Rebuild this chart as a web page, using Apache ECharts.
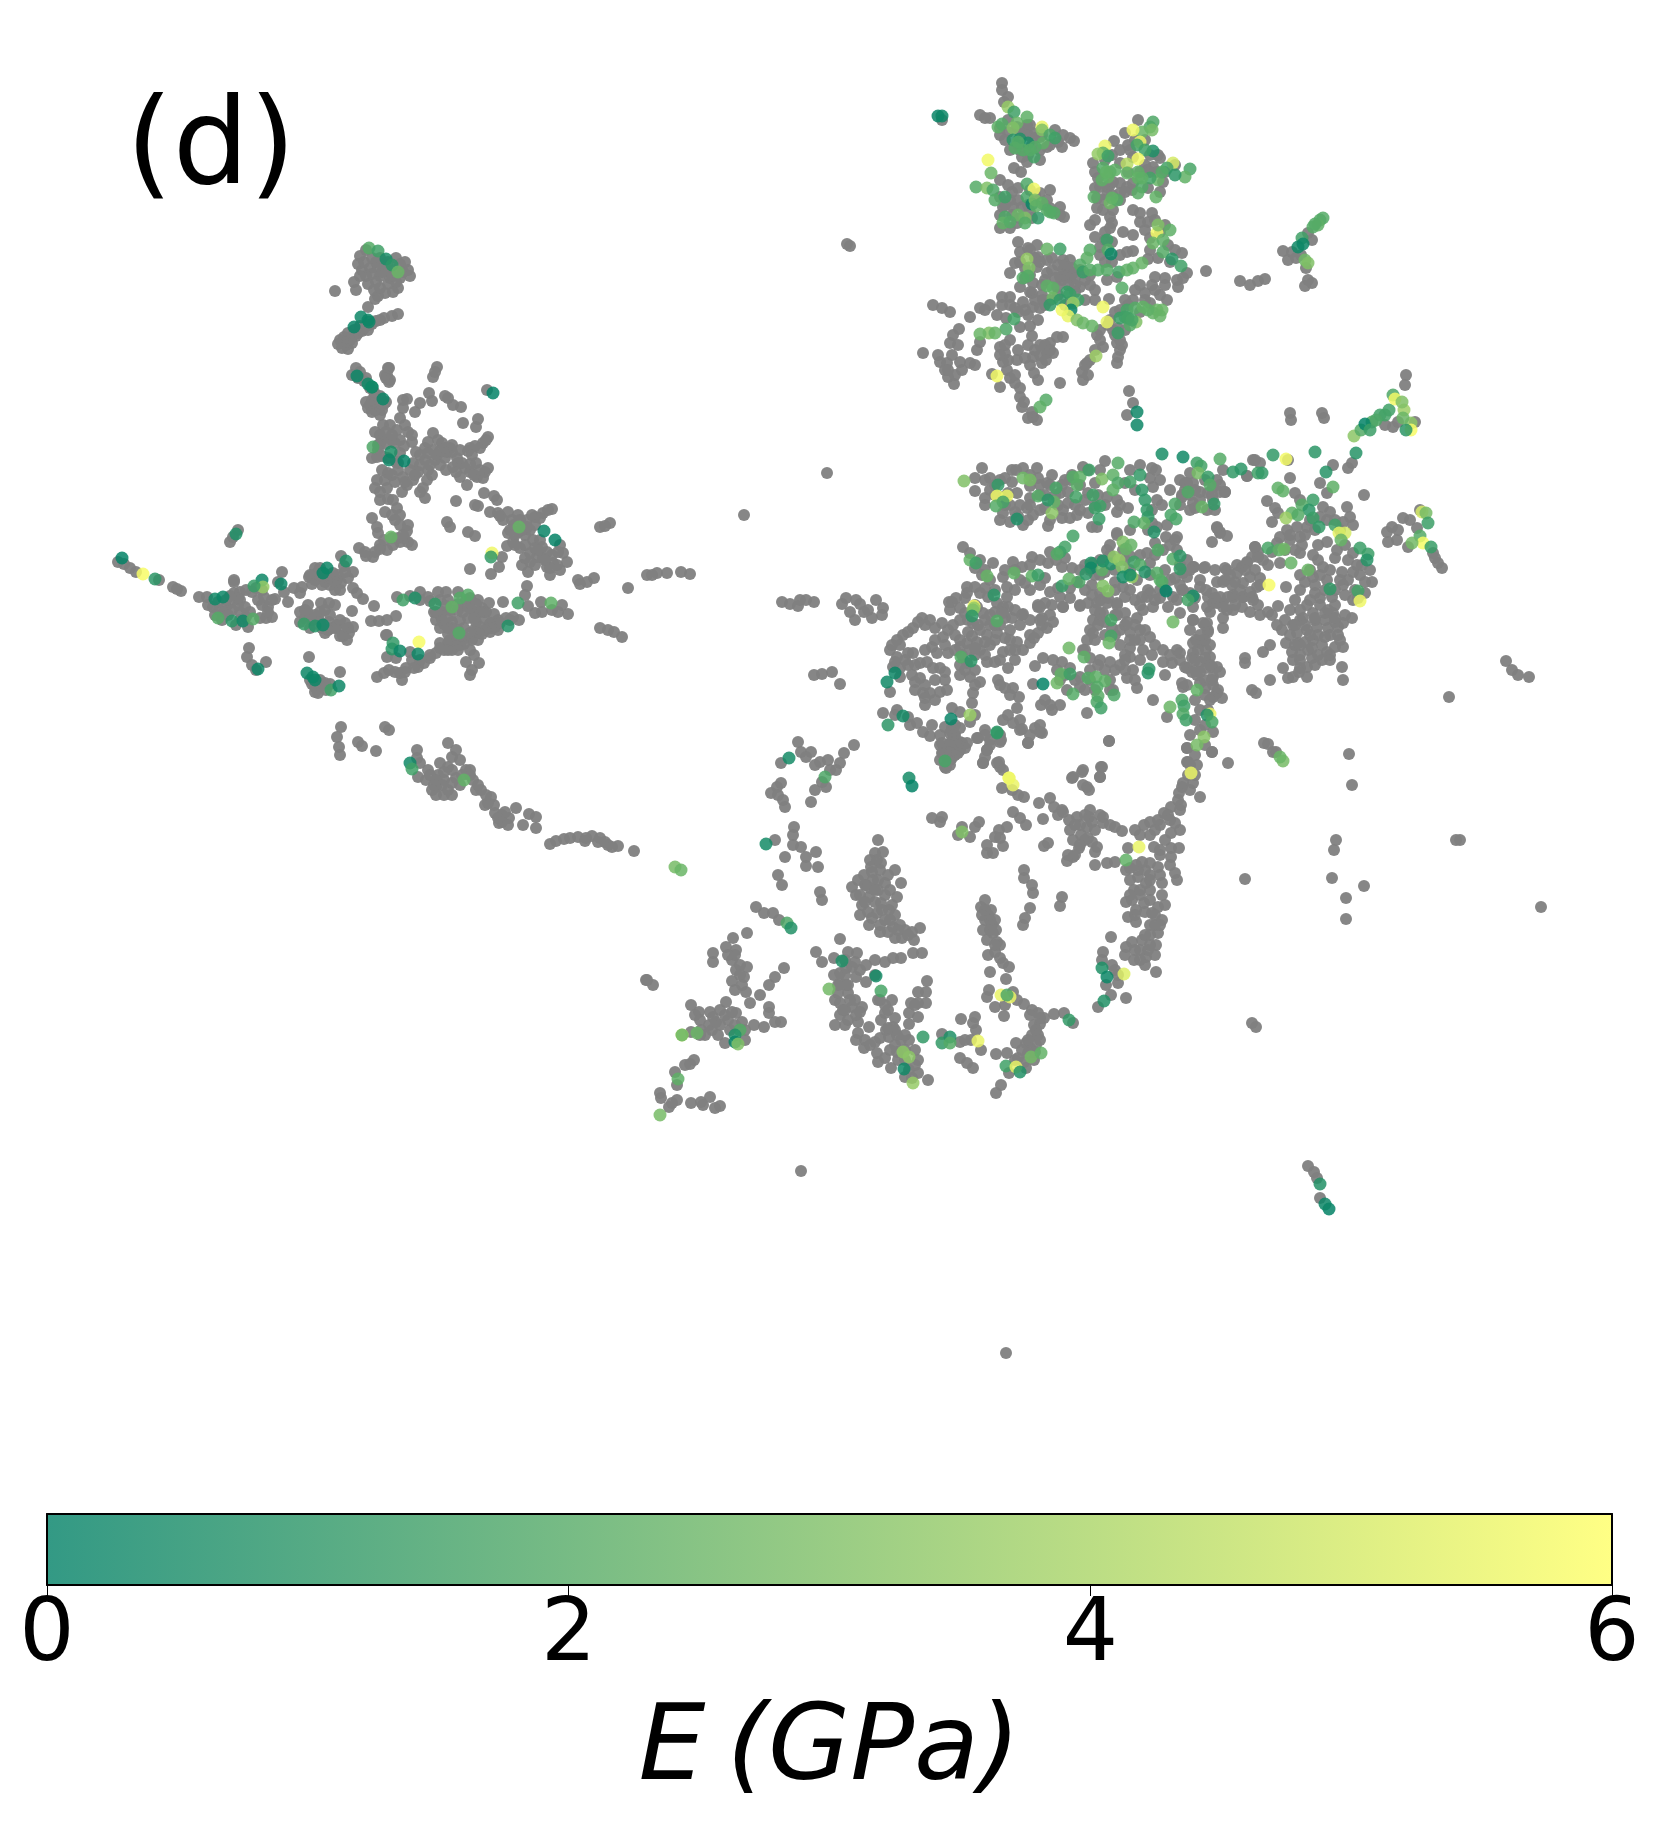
<!DOCTYPE html>
<html>
<head>
<meta charset="utf-8">
<title>E (GPa)</title>
<style>
    html, body { margin: 0; padding: 0; background: #fff; }
    #chart { width: 1660px; height: 1824px; }
</style>
<script src="https://cdn.jsdelivr.net/npm/echarts@6/dist/echarts.min.js"></script>
</head>
<body>
<div id="chart"></div>
<script>
// embedding values, y runs downwards
const grayWest = [
[366,250],[360,256],[362,270],[370,268],[378,268],[386,270],[394,270],[372,274],[380,276],[390,278],[400,278],[408,270],[400,264],[376,262],[384,264],[366,276],[376,282],[388,284],[398,288],[392,276],[354,282],[356,290],[335,291],[385,293],[375,299],[368,307],[378,296],
[392,316],[398,314],[384,318],[376,321],[369,325],[360,326],[354,330],[348,333],[344,337],[340,340],[338,344],[346,345],[352,343],[348,349],[356,336],[362,331],[368,330],
[356,368],[352,375],[358,378],[364,381],[370,388],[375,395],[378,403],[372,400],[368,408],[376,410],[372,412],[382,410],[386,402],[389,368],[387,375],[389,382],[386,378],
[388,368],[385,375],[390,380],[437,367],[433,377],[435,372],[407,399],[403,408],[400,418],[408,432],[412,442],[429,393],[420,403],[432,401],[415,412],[448,398],[453,405],[461,407],[445,396],[463,423],[478,419],[476,427],[488,437],[483,443],[475,446],[468,451],[433,433],[425,448],[433,450],[442,443],[450,448],[425,460],[435,460],[445,458],[457,458],[462,463],[413,463],[428,470],[453,467],[476,463],[470,472],[485,472],[460,477],[477,477],[483,478],[467,485],
[372,403],[378,403],[375,410],[383,425],[375,432],[380,435],[390,425],[397,430],[382,440],[395,443],[400,453],[377,457],[398,463],[388,473],[377,480],[403,477],[413,480],[407,485],[427,480],[423,488],[425,498],[402,492],[375,488],[387,488],[388,499],[385,512],[397,508],[392,515],[400,515],[395,520],[372,518],[377,527],[378,533],[407,531],[408,542],[400,542],[393,545],[387,550],[375,552],[373,557],
[484,493],[494,496],[497,500],[475,505],[478,506],[456,501],[447,522],[450,527],[468,532],[475,536],[487,390],
[490,512],[498,513],[508,512],[503,520],[518,515],[527,520],[535,517],[543,513],[552,509],[508,533],[513,542],[507,546],[530,530],[533,540],[520,548],[530,553],[542,547],[547,552],[537,557],[522,565],[530,562],[528,572],[502,557],[499,567],[491,574],[470,569],[560,545],[563,553],[567,562],[553,563],[547,567],[560,570],[550,575],[578,580],[514,525],[525,535],[540,540],[518,532],
[118,562],[124,564],[130,568],[136,572],[159,580],[173,587],[181,591],[177,589],
[199,597],[207,597],[213,607],[219,610],[226,607],[230,603],[224,612],[248,627],[238,605],[240,612],[234,593],[240,592],[246,590],[256,588],[234,580],[234,582],[240,600],[222,620],[236,625],[246,617],[264,597],[262,605],[268,607],[266,618],[272,617],[260,618],[275,599],[288,602],[282,572],[284,592],[294,588],[302,587],[300,593],[278,582],[238,530],[230,542],[233,537],[218,602],[230,596],[252,592],[258,600],[228,615],
[315,568],[333,573],[337,580],[315,580],[309,577],[335,590],[353,572],[341,556],[341,583],[325,582],[320,576],[348,578],[330,585],[318,572],[312,584],[328,578],[344,566],
[353,588],[363,599],[357,593],[374,606],[359,548],[366,556],[380,549],[398,538],[412,545],[404,538],[365,552],
[308,605],[321,603],[335,605],[329,603],[308,613],[300,622],[329,622],[337,625],[345,623],[353,627],[349,633],[341,630],[347,640],[325,633],[335,628],[352,611],[371,621],[379,621],[387,620],[396,616],[387,635],[312,620],[318,618],[328,630],[343,636],[305,618],[320,612],
[249,648],[247,657],[252,665],[266,662],[256,670],[309,657],[315,687],[318,693],[325,683],[340,672],[320,680],[326,690],[312,684],
[397,597],[420,592],[428,597],[446,592],[458,592],[440,600],[448,600],[430,601],[438,592],[470,598],[478,600],[410,596],[420,600],
[442,612],[450,616],[458,610],[466,606],[474,612],[482,608],[436,620],[444,624],[452,622],[460,620],[468,618],[476,622],[484,618],[490,624],[498,620],[506,618],[474,630],[482,634],[490,632],[498,630],[464,628],[472,640],[480,627],[456,640],[448,634],[458,630],[440,628],[466,600],[476,604],[486,612],[446,606],[434,612],[494,614],[452,628],[464,644],[478,640],[488,628],
[580,584],[587,582],[594,578],[600,527],[610,523],[605,526],[628,588],[647,575],[657,573],[667,573],[652,575],[681,572],[690,574],[600,628],[614,632],[622,637],[608,630],
[527,586],[525,595],[541,602],[562,605],[568,614],[535,613],[519,620],[513,617],[503,602],[489,603],[491,623],[495,627],[479,633],[472,638],[464,637],[448,643],[440,643],[452,650],[436,653],[424,663],[412,660],[400,673],[389,670],[377,677],[402,680],[387,657],[474,655],[466,662],[479,663],[472,670],[470,675],[542,612],[552,610],[558,612],[528,606],[406,668],[418,667],[430,658],[444,650],[450,640],[460,645],[470,650],[386,635],[396,658],[410,652],
[341,727],[337,737],[339,747],[340,755],[385,727],[389,730],[358,742],[362,746],[376,751],
[417,750],[420,763],[418,777],[426,780],[436,787],[436,795],[448,790],[440,763],[448,767],[438,775],[448,743],[456,750],[460,760],[466,770],[473,780],[481,790],[491,797],[485,805],[495,813],[499,823],[509,818],[516,808],[529,814],[536,817],[523,825],[536,828],[556,841],[564,839],[578,837],[592,836],[598,842],[608,845],[618,846],[634,851],[452,757],[444,780],[456,778],[428,770],[434,785],[444,795],[502,815],[488,803],[476,790],[600,838],[586,838],[550,844],[432,790],[452,783],[502,822],[505,812],[470,775],
[372,258],[380,258],[388,262],[396,258],[405,262],[364,262],[358,264],[368,284],[382,272],[396,282],[403,272],[360,276],[410,276],[374,290],[380,288],[393,292],
[358,333],[352,336],[346,342],[342,348],[364,328],[372,324],[380,320],[350,340],[360,372],[366,378],[374,392],[380,396],[366,402],[370,405],[384,404],[380,407],
[380,444],[386,444],[392,440],[400,440],[404,446],[378,450],[382,456],[388,458],[396,462],[372,458],
[403,400],[405,425],[412,435],[416,452],[420,455],[428,453],[437,455],[440,451],[447,452],[452,452],[458,463],[465,468],[470,464],[480,470],[474,475],[488,468],[430,465],[420,465],[432,475],[418,472],[410,470],[428,442],[438,440],[445,448],[452,445],[460,450],[470,448],[480,448],[486,440],[472,455],[440,465],[446,470],[456,472],
[380,415],[386,432],[392,435],[378,445],[382,470],[385,480],[392,475],[398,470],[405,482],[415,475],[420,492],[395,482],[380,492],[393,500],[380,500],[400,525],[408,525],[403,535],[384,540],[380,545],[392,538],
[500,516],[512,520],[520,520],[532,515],[540,518],[548,510],[510,530],[515,535],[522,530],[527,527],[535,525],[525,545],[535,548],[515,545],[525,558],[535,565],[543,558],[552,555],[558,552],[557,565],[550,568],[545,560],[538,550],
[440,615],[448,628],[455,635],[462,636],[470,633],[476,632],[485,630],[492,628],[500,623],[510,620],[480,612],[470,608],[458,604],[450,610],[442,620],[436,612],[463,612],[474,618],[484,612],[462,640],[456,646],[448,650],[440,648],[430,655],[420,660],[414,668],[405,672],[395,672],[384,673],[458,650],
[300,612],[305,610],[315,615],[325,610],[330,615],[340,620],[348,628],[340,636],[332,628],[322,628],[310,628],[320,622],[310,575],[320,568],[328,575],[338,575],[345,572],[322,585],[335,582],[340,590],
[208,605],[215,615],[226,600],[232,610],[240,620],[245,607],[250,612],[238,598],[262,590],[272,600],[268,612],[315,692],[320,686],[330,684],[310,680],
[417,758],[430,775],[442,785],[452,770],[444,772],[436,780],[462,775],[470,770],[478,785],[486,795],[494,805],[498,818],[508,825],[452,795],[460,785],[570,838],[585,841],[605,842],[612,847]
];
const grayNorth = [
[1002,83],[1002,90],[1004,102],[1008,97],[980,115],[985,118],[990,118],[942,120],
[1027,125],[1033,133],[1063,135],[1074,141],[1062,147],[1050,145],[1027,162],[1000,135],[1017,127],[1040,137],[1047,147],[1032,145],[1024,132],[1008,120],[1040,150],[1022,157],
[1018,188],[1050,190],[1047,200],[1060,207],[1064,217],[1003,207],[1013,207],[1022,207],[1010,228],[1017,223],[1040,193],[1014,168],[1021,172],[1000,197],[1030,212],[1050,208],[1010,200],
[1138,120],[1125,133],[1130,150],[1114,141],[1093,163],[1100,187],[1107,187],[1127,187],[1133,183],[1153,167],[1147,170],[1163,182],[1120,163],[1133,157],[1120,183],[1097,208],[1103,210],[1113,210],[1120,193],[1145,165],[1128,172],[1148,188],[1112,195],
[1110,217],[1112,223],[1090,225],[1095,220],[1133,210],[1140,213],[1152,213],[1148,222],[1123,232],[1133,235],[1145,230],[1182,253],[1148,259],[1095,237],[1100,247],[1127,252],[1133,251],[1155,277],[1107,280],[1117,277],[1178,287],[1177,280],[1187,273],[1183,278],[1105,232],[1112,242],[1150,238],[1105,262],
[1018,242],[1037,245],[1020,252],[1015,263],[1010,273],[1020,287],[1033,283],[1047,260],[1038,257],[1063,260],[1063,270],[1070,260],[1060,277],[1070,278],[1032,293],[1080,287],[1037,267],[1047,273],[1057,287],[1073,273],[1067,267],[1025,268],[1052,270],[1028,248],[1062,280],[1075,285],[1090,285],[1042,295],
[933,305],[942,308],[950,312],[970,317],[980,308],[990,305],[997,315],[1002,297],[1010,297],[1015,308],[1023,302],[1033,307],[1043,300],[1020,327],[1030,326],[1038,320],[1032,336],[959,329],[953,335],[950,343],[977,350],[980,342],[923,353],[938,355],[947,363],[948,377],[954,384],[960,362],[970,363],[1000,347],[1010,340],[1005,353],[1017,360],[1033,357],[1047,353],[1053,353],[1042,363],[1050,343],[1057,337],[1063,337],[992,374],[1007,370],[1000,387],[1015,383],[1020,397],[1022,407],[1034,373],[1038,380],[1060,383],[1033,417],[1037,420],[1032,412],[1006,318],[1028,315],[1040,308],[940,362],[945,370],[1040,355],[1030,365],[1045,345],[1003,362],[1010,378],
[1109,299],[1145,293],[1165,285],[1167,300],[1150,303],[1133,300],[1120,310],[1100,330],[1097,335],[1113,330],[1117,343],[1118,357],[1117,363],[1103,347],[1087,363],[1082,372],[1083,380],[1090,360],[1110,320],[1125,330],[1155,290],[1140,312],[1120,350],
[1129,391],[1133,403],[1127,415],[1290,413],[1291,420],[1322,413],[1324,418],
[1240,281],[1250,285],[1258,281],[1265,279],[1206,271],[1283,251],[1288,260],[1292,252],[1308,233],[1312,240],[1308,280],[1305,286],[1312,283],[1296,258],[1306,268],[1301,255],
[1000,128],[1008,132],[1005,140],[1020,132],[1028,135],[1035,138],[1042,135],[1055,130],[1058,142],[1070,138],[1020,150],[1028,155],[1040,160],[1025,128],[1030,125],[1010,150],[1018,145],
[1030,190],[1035,195],[1045,205],[1052,212],[1060,215],[1005,205],[1018,200],[1028,205],[1012,215],[1020,218],[1032,218],[1000,215],[1000,228],[1012,192],[1008,185],[1000,180],
[1105,160],[1112,155],[1120,150],[1128,145],[1135,140],[1145,140],[1158,155],[1165,172],[1150,172],[1157,172],[1095,172],[1098,178],[1110,185],[1095,188],[1113,182],[1132,190],[1140,172],[1160,192],[1104,200],[1097,198],[1107,195],[1120,200],[1125,192],[1150,155],[1160,158],[1175,165],
[1110,228],[1105,240],[1100,255],[1112,262],[1120,255],[1140,222],[1155,220],[1165,225],[1160,232],[1168,245],[1175,250],[1150,250],[1158,258],[1170,262],
[1030,250],[1035,258],[1025,278],[1030,275],[1040,262],[1045,280],[1052,258],[1058,265],[1055,278],[1065,265],[1072,268],[1075,278],[1080,270],[1085,280],[1090,275],[1095,290],[1068,285],[1058,295],[1050,300],[1065,305],[1075,292],[1085,300],[1095,300],[1020,262],[1030,292],[1035,300],[1042,285],[1070,302],[1065,275],
[1128,305],[1135,290],[1145,300],[1152,285],[1160,295],[1165,278],[1125,300],[1115,312],[1108,325],[1118,328],[1128,320],[1140,285],
[1010,305],[1018,312],[1025,310],[1045,305],[1002,305],[985,310],[1000,355],[1008,360],[1018,350],[1028,345],[1040,345],[1046,360],[1035,350],[1025,358],[1050,350],[1005,345],[958,345],[952,355],[948,370],[955,375],[962,370],[975,365],[1015,375],[1020,388],[1024,402],[1028,418],
[1120,340],[1115,335],[1122,345],[1085,365],[1088,375],[1095,350],[1100,340]
];
const grayCentral = [
[883,608],[922,618],[930,620],[913,628],[903,635],[897,640],[890,650],[897,657],[893,667],[900,677],[890,692],[908,653],[913,653],[942,623],[953,625],[943,637],[932,647],[937,653],[927,662],[920,663],[912,675],[920,678],[915,690],[923,693],[930,693],[925,705],[940,668],[933,668],[945,680],[940,692],[947,690],[918,622],[908,632],[892,645],[895,662],[948,630],
[948,653],[960,647],[967,643],[977,642],[987,635],[980,630],[968,632],[973,623],[952,602],[950,610],[965,613],[983,613],[997,603],[1008,607],[1005,618],[1012,618],[1023,614],[997,633],[990,645],[1005,638],[980,650],[967,663],[960,665],[970,677],[973,693],[972,703],[980,682],[987,662],[995,662],[975,655],[962,655],[985,620],[990,625],[995,612],[960,620],[975,605],[972,636],[955,650],[970,650],[1000,625],
[1003,652],[1008,668],[1015,660],[1023,650],[1017,642],[1030,643],[1038,633],[1047,628],[1053,622],[1038,607],[1045,603],[1063,607],[1080,606],[1042,618],[1035,666],[1043,658],[1053,660],[1062,662],[998,680],[1005,688],[1013,688],[1019,697],[1033,684],[883,713],[897,710],[908,717],[917,723],[923,732],[930,736],[932,725],[952,708],[960,712],[970,722],[950,733],[940,745],[950,743],[960,742],[967,743],[943,753],[955,750],[945,767],[978,738],[985,730],[987,750],[983,763],[1000,742],[1003,720],[1013,723],[1022,729],[1017,708],[1028,743],[1035,728],[1042,733],[1041,705],[1052,710],[1060,705],[948,748],[952,758],[955,725],[1042,625],[1034,638],[1050,615],
[1057,670],[1080,677],[1090,670],[1067,690],[1080,687],[1110,680],[1120,665],[1113,690],[1127,678],[1087,713],[1137,688],[1133,670],[1130,657],[1110,662],[1093,620],[1088,603],[1107,603],[1117,605],[1093,633],[1087,640],[1083,650],[1103,613],[1125,613],[1120,630],[1130,632],[1140,630],[1150,637],[1143,650],[1130,648],[1120,645],[1137,618],[1143,610],[1140,605],[1163,650],[1177,650],[1163,662],[1172,663],[1187,668],[1165,675],[1153,700],[1167,717],[1183,687],[1195,670],[1200,643],[1193,653],[1208,630],[1203,623],[1213,685],[1213,677],[1217,693],[1210,657],[1217,667],[1200,730],[1187,748],[1212,752],[1188,762],[1197,765],[1182,787],[1193,783],[1109,741],[1147,597],[1173,597],[1180,613],[1193,620],[1213,603],[1150,593],[1193,607],[1100,620],[1112,628],[1100,600],[1127,622],[1135,640],[1125,655],[1060,680],[1090,680],[1098,665],[1152,655],[1070,668],[1205,680],[1205,695],[1208,710],[1195,700],[1196,640],[1206,650],
[997,763],[1000,767],[1082,772],[1072,778],[1102,767],[1100,777],[1087,787],
[1185,483],[1193,483],[1182,495],[1200,492],[1217,480],[1223,470],[1220,492],[1213,500],[1225,492],[1195,508],[1207,510],[1247,476],[1253,460],[1260,463],[1288,460],[1290,478],[1295,493],[1300,500],[1320,483],[1327,493],[1333,465],[1352,463],[1348,468],[1364,495],[1267,501],[1275,508],[1278,513],[1272,522],
[1217,528],[1220,533],[1227,536],[1212,542],[1323,507],[1330,512],[1347,507],[1350,517],[1343,522],[1353,525],[1327,520],[1307,527],[1297,527],[1287,530],[1280,537],[1277,543],[1300,537],[1302,545],[1327,542],[1318,545],[1337,550],[1335,558],[1313,555],[1300,553],[1280,563],[1255,547],[1252,557],[1247,562],[1263,560],[1242,567],[1237,565],[1225,568],[1250,577],[1235,582],[1225,580],[1217,582],[1260,585],[1194,567],[1204,568],[1183,573],[1200,580],[1182,590],[1335,520],[1340,530],[1310,520],[1320,517],[1272,552],[1290,540],[1258,552],
[1286,587],[1305,582],[1300,590],[1295,600],[1290,610],[1307,605],[1315,593],[1313,577],[1323,567],[1327,580],[1332,597],[1342,572],[1353,572],[1348,580],[1343,585],[1372,582],[1370,570],[1353,553],[1357,565],[1365,582],[1355,590],[1353,600],[1365,593],[1320,575],[1315,585],[1320,598],[1328,610],
[1208,597],[1217,603],[1223,603],[1233,595],[1227,610],[1243,597],[1252,597],[1242,607],[1250,612],[1260,615],[1268,612],[1272,615],[1278,606],[1193,620],[1207,623],[1223,618],[1223,628],[1233,610],[1208,632],[1277,625],[1282,630],
[1293,625],[1303,618],[1313,613],[1325,613],[1333,613],[1343,623],[1352,618],[1297,633],[1307,630],[1317,627],[1328,628],[1338,627],[1305,642],[1313,640],[1308,650],[1318,655],[1327,652],[1335,647],[1343,647],[1322,660],[1286,643],[1270,645],[1263,652],[1292,652],[1245,658],[1245,663],[1293,660],[1283,668],[1293,677],[1307,667],[1307,677],[1342,667],[1343,680],[1270,680],[1252,690],[1256,693],[1300,620],[1315,620],[1330,635],[1298,643],[1318,635],[1322,645],[1300,655],[1312,658],[1335,622],[1300,668],[1288,678],[1299,672],
[1203,640],[1198,650],[1192,658],[1200,662],[1185,667],[1197,675],[1212,667],[1220,672],[1212,680],[1218,690],[1213,697],[1222,698],[1187,685],[1200,683],[1180,653],[1193,643],[1182,683],[1206,668],[1192,672],[1205,658],
[1403,518],[1410,520],[1420,510],[1387,532],[1392,527],[1397,540],[1388,542],[1417,528],[1408,547],[1433,553],[1438,563],[1442,568],[1398,530],[1435,558],[1385,425],[1393,427],[1415,422],[1398,422],[1406,375],[1405,385],
[982,468],[975,478],[990,478],[975,491],[1023,468],[1037,468],[1038,478],[1008,493],[1017,493],[1003,497],[1020,505],[1003,513],[1010,522],[1023,525],[1033,515],[1027,508],[1047,483],[1045,508],[1048,526],[1063,510],[1062,518],[1070,518],[1077,515],[1092,527],[1097,527],[1088,513],[1065,480],[1088,470],[1083,467],[1105,461],[1060,493],[1088,493],[1107,497],[1117,500],[1117,512],[1128,508],[1125,483],[1152,468],[1160,480],[1153,487],[1157,500],[1152,510],[1167,525],[1157,527],[1130,530],[1117,535],[1152,523],[1177,537],[1190,473],[1187,483],[1182,497],[1193,503],[1208,493],[1213,487],[1225,492],[1247,476],[1255,460],[1217,527],[1220,532],
[1000,480],[1012,482],[1030,486],[1045,495],[1005,505],[1015,512],[1030,498],[1040,510],[1055,495],[1068,492],[1075,505],[1085,500],[1098,495],[990,490],[985,498],[1016,470],[1052,475],[1072,475],[1028,520],
[963,547],[970,553],[980,560],[993,563],[1013,562],[1032,557],[1050,552],[1022,567],[1048,563],[1003,577],[982,575],[985,588],[967,593],[980,593],[1007,587],[1007,597],[975,587],[988,597],[1062,567],[1072,568],[1025,583],[1040,585],[1020,580],[1050,592],[1070,588],[1080,605],[1060,597],[1038,605],[1052,605],[1063,607],[1077,582],[1085,565],[1093,563],[1107,550],[1117,533],[1123,550],[1100,593],[1097,603],[1117,603],[1123,587],[1115,582],[1137,580],[1142,597],[1147,553],[1150,563],[1163,550],[1177,550],[1187,560],[1175,540],[1187,577],[1175,578],[1193,567],[1205,567],[1183,590],[1190,593],[1200,587],[1212,593],[1223,582],[1227,570],[1237,573],[1247,563],[1255,547],[1258,557],[1243,583],[1257,587],[1220,597],[1233,597],[1207,607],[1243,597],[1253,600],[1223,607],[1177,600],[1153,607],[1168,607],[1022,615],[977,607],[1003,607],[965,598],[967,587],[1003,613],[1040,607],[1100,613],[1117,615],[1095,575],[1105,572],[1115,590],[1130,590],[1150,575],[1165,570],[1165,590],[1110,545],[1130,556],[1155,543],[1166,537],[1092,585],[1100,575],[1148,590],[1160,598],
[949,602],[956,598],[860,604],[868,610],[876,600],[882,615],[872,618],[864,612],[814,602],[800,600],[782,602],[790,604],[798,606],[806,600],[846,598],[856,600],[850,612],[842,604],[855,620],[814,675],[832,672],[822,674],[840,684],[1268,744],[1276,752],
[985,480],[995,485],[1005,478],[1012,470],[1030,475],[1040,485],[1050,485],[1062,485],[1070,480],[1080,485],[1095,483],[1100,470],[985,505],[995,495],[1010,505],[1000,520],[1018,516],[1030,505],[1040,495],[1050,520],[1058,505],[1068,503],[1080,510],[1095,505],[1105,505],[1120,505],[1135,490],[1130,470],[1140,465],[1150,478],[1156,470],[1148,530],[1162,505],[1170,490],[1180,480],[1185,490],[1190,495],[1195,490],[1205,480],[1212,495],[1220,485],[1200,500],[1190,510],[1215,510],[1180,505],
[975,568],[985,570],[990,580],[995,590],[1005,570],[1015,570],[1030,565],[1040,560],[1056,560],[1065,558],[1080,570],[1090,570],[1100,560],[1110,555],[1115,570],[1125,560],[1130,570],[1140,555],[1155,555],[1170,545],[1180,565],[1190,570],[1170,580],[1160,590],[1045,578],[1030,590],[1015,590],[1058,588],[1070,598],[1085,590],[1092,595],[1108,598],[1125,597],[1135,600],[1155,600],[1180,585],[1195,598],[1206,590],[1215,598],[1228,597],[1240,590],[1250,592],[1260,578],[1268,565],[1245,570],[1232,585],
[900,645],[905,660],[915,665],[925,650],[935,640],[945,645],[925,625],[935,628],[955,635],[960,640],[975,648],[985,642],[995,640],[1010,630],[1020,625],[1030,620],[960,608],[968,620],[978,625],[990,615],[1002,612],[1015,610],[995,625],[1010,640],[1015,650],[1030,635],[1040,620],[965,670],[975,670],[985,655],[1000,660],[1010,650],[900,668],[908,665],[915,682],[925,685],[935,680],[945,672],[935,700],[925,698],[975,685],[960,675],[975,715],[895,715],[910,725],[940,735],[945,727],[955,735],[950,760],[960,750],[1000,685],[1010,695],[1008,715],[1020,720],[1030,735],[1040,725],[1045,700],[1050,705],[1000,735],[990,740],[985,757],
[1095,610],[1105,622],[1115,615],[1125,625],[1135,625],[1145,630],[1130,640],[1140,640],[1115,635],[1105,635],[1095,640],[1090,630],[1098,625],[1085,650],[1090,658],[1100,660],[1115,670],[1125,670],[1135,680],[1140,660],[1065,675],[1075,680],[1085,690],[1095,690],[1105,670],[1110,690],[1125,660],[1155,645],[1170,655],[1180,660],[1195,660],[1205,640],[1210,645],[1205,625],[1210,665],[1200,672],[1205,688],[1210,700],[1200,710],[1195,720],[1205,725],[1190,735],[1195,755],[1205,745],
[1295,625],[1305,625],[1315,618],[1325,620],[1335,618],[1345,615],[1310,635],[1325,637],[1338,635],[1300,645],[1312,648],[1330,655],[1340,640],[1300,660],[1315,665],[1290,635],[1285,620],[1330,660],[1300,575],[1310,570],[1318,560],[1330,570],[1340,580],[1325,590],[1335,590],[1310,600],[1300,610],[1320,605],[1335,605],[1345,595],[1290,535],[1305,535],[1315,530],[1295,550],[1285,550],[1345,545],[1348,560],[1360,575],[1362,565],[1358,598],[1295,645],[1190,630],[1200,635],[1210,612],[1235,605],[1258,605],[1215,570],[1230,575],[1255,570]
];
const graySouth = [
[798,742],[801,752],[811,752],[820,762],[828,760],[815,765],[840,763],[844,753],[854,745],[836,770],[815,790],[826,787],[781,763],[777,787],[781,783],[771,793],[783,800],[785,807],[811,802],[830,770],[822,782],[806,757],[778,795],
[794,827],[793,835],[775,840],[793,845],[801,847],[785,857],[806,857],[816,852],[806,866],[818,867],[778,875],[782,885],[820,892],[822,900],
[756,907],[764,913],[773,913],[779,920],[747,933],[733,938],[726,947],[736,950],[713,953],[713,962],[732,960],[736,970],[744,977],[732,981],[747,967],[784,968],[775,977],[769,985],[760,995],[750,1003],[746,992],[646,980],[653,985],[691,1005],[699,1012],[695,1015],[713,1017],[726,1002],[720,1010],[736,1013],[728,1020],[709,1025],[701,1030],[691,1032],[725,1043],[769,1007],[769,1013],[754,1025],[764,1027],[775,1022],[781,1022],[730,1030],[712,1030],[745,1030],[742,1022],[716,1022],[732,1012],
[694,1060],[690,1064],[685,1065],[675,1072],[677,1085],[660,1093],[661,1098],[677,1100],[669,1107],[691,1103],[701,1102],[710,1097],[703,1105],[715,1108],[720,1106],[672,1103],
[878,840],[875,853],[883,852],[877,860],[871,867],[864,875],[895,870],[881,863],[885,883],[873,880],[852,887],[856,895],[869,897],[875,902],[862,905],[881,903],[889,910],[877,913],[885,920],[869,925],[893,927],[905,930],[895,938],[901,883],[897,897],[920,928],[914,940],[885,895],[866,885],[870,888],[860,895],[868,912],[880,925],[888,932],[902,938],[872,872],[878,890],[892,905],
[840,939],[816,952],[822,962],[834,958],[848,952],[857,953],[852,967],[840,973],[856,977],[866,982],[885,962],[901,958],[913,953],[922,953],[840,983],[848,993],[840,1003],[852,1007],[862,1007],[840,1015],[848,1020],[858,1022],[835,1025],[869,1027],[885,1013],[881,1020],[893,1027],[889,1037],[901,1040],[875,1042],[856,1040],[864,1048],[877,1053],[885,1058],[891,1068],[909,1040],[918,1060],[909,1070],[918,1073],[928,1080],[905,1077],[846,968],[834,975],[845,1010],[850,1000],[835,1000],[895,1045],[885,1005],[892,1000],[880,1000],[875,975],[866,965],[893,958],[886,1030],[880,1038],[905,1060],[897,1052],[860,970],[875,960],[846,985],[838,993],[856,1015],[897,1035],
[911,1003],[918,1003],[926,1003],[909,1013],[918,1017],[909,1024],[927,981],[918,992],[926,992],[915,1005],
[942,1034],[960,1042],[971,1040],[973,1023],[975,1017],[961,1019],[981,1050],[960,1058],[967,1063],[973,1068],[965,1040],[976,1030],
[981,907],[991,910],[985,920],[995,920],[983,930],[993,933],[987,940],[997,942],[995,952],[1003,963],[1009,967],[990,972],[1006,979],[989,990],[987,997],[995,1007],[1004,1016],[1013,992],[1017,1000],[1005,1005],[1000,945],[988,955],[992,925],[985,900],[988,915],[1000,958],
[1024,1004],[1032,1010],[1038,1013],[1044,1018],[1034,1025],[1032,1035],[1026,1043],[1036,1045],[1016,1043],[1054,1014],[1064,1013],[1073,1023],[1040,1024],[1038,1035],[1030,1048],[996,1054],[1007,1053],[1028,1053],[1009,1073],[1026,1068],[1001,1085],[996,1093],[1034,1060],[1018,1058],
[932,818],[942,817],[940,822],[979,822],[975,827],[958,835],[970,837],[962,827],[987,845],[1003,846],[999,830],[1007,827],[995,837],[987,853],[993,853],[1026,825],[1013,812],[1020,818],[1000,838],
[999,762],[1003,770],[1002,788],[1018,795],[1024,797],[983,763],[1012,790],
[942,743],[952,742],[962,743],[950,752],[942,753],[958,753],[946,768],[952,728],[954,735],[977,738],[987,750],[1001,740],[1028,743],[1040,732],[1020,730],[948,760],[952,732],[960,728],[985,735],[990,745],
[1050,798],[1054,807],[1062,810],[1069,820],[1077,817],[1089,817],[1103,817],[1087,827],[1081,835],[1073,840],[1079,848],[1073,857],[1067,861],[1097,847],[1095,852],[1095,865],[1107,863],[1115,862],[1103,823],[1115,827],[1122,831],[1039,803],[1043,819],[1044,846],[1048,843],[1080,825],[1092,822],[1085,840],[1058,815],
[1024,870],[1024,878],[1032,885],[1033,893],[1030,908],[1062,897],[1060,906],[1023,925],[1025,918],
[1109,741],[1083,770],[1073,777],[1101,767],[1100,777],[1083,785],[1089,790],
[1213,732],[1187,748],[1212,752],[1187,762],[1183,783],[1179,793],[1200,797],[1171,807],[1181,805],[1164,813],[1150,822],[1175,823],[1135,830],[1171,833],[1150,835],[1128,848],[1154,847],[1171,848],[1179,848],[1171,857],[1150,863],[1158,867],[1138,877],[1130,880],[1146,883],[1175,873],[1177,880],[1162,883],[1126,870],[1134,890],[1126,902],[1144,903],[1162,895],[1158,907],[1152,913],[1128,917],[1136,922],[1162,920],[1158,933],[1111,937],[1142,940],[1132,942],[1156,945],[1126,947],[1146,957],[1134,960],[1103,952],[1156,972],[1118,983],[1111,995],[1126,998],[1098,1007],[1102,960],[1178,800],[1188,775],[1190,790],[1158,820],[1168,815],[1144,825],[1138,870],[1132,900],[1140,895],[1150,890],[1136,910],[1155,925],[1150,935],[1148,950],[1140,950],[1136,865],[1145,870],[1150,875],[1160,855],[1115,970],[1106,985],
[1245,879],[1252,1023],[1256,1027],[1228,763],[1264,743],[1273,752],
[1006,1353],[801,1171],[1308,1166],[1314,1172],[1320,1198],[1317,1178],[1541,907],[1460,840],[1456,840],[1349,754],[1352,785],[1336,840],[1334,850],[1332,878],[1346,898],[1364,886],[1346,919],[1449,697],[1506,661],[1512,670],[1518,675],[1529,677],[847,244],[850,246],[744,515],[827,473],[647,980],
[1180,810],[1170,820],[1160,825],[1155,830],[1140,835],[1165,840],[1160,850],[1180,830],[1170,865],[1160,875],[1150,880],[1142,862],[1130,868],[1140,890],[1130,895],[1150,900],[1145,912],[1135,915],[1165,905],[1155,915],[1150,925],[1145,935],[1160,925],[1135,950],[1125,955],[1140,960],[1150,945],[1155,955],[1145,965],[1112,965],[1118,975],[1190,765],[1195,775],
[1063,812],[1075,825],[1090,810],[1085,815],[1095,830],[1070,830],[1088,838],[1080,845],[1075,855],[1068,855],[1100,815],[1110,825],[1092,842],
[870,860],[880,870],[888,875],[878,880],[865,885],[858,880],[890,890],[865,902],[875,890],[882,910],[872,918],[895,915],[900,925],[912,932],[880,932],[890,920],[898,930],[908,935],[860,915],
[845,960],[855,962],[845,975],[848,985],[838,985],[843,1010],[855,1000],[845,1025],[860,1012],[878,1000],[888,1010],[895,1018],[888,1028],[895,1030],[905,1035],[915,1050],[905,1050],[898,1060],[915,1065],[912,1078],[870,1045],[878,1062],[890,1050],[858,1033],[865,1040],
[990,920],[990,930],[995,945],[985,910],[982,915],[996,930],
[1030,1015],[1040,1018],[1036,1030],[1028,1040],[1040,1040],[1022,1050],[1015,1060],[1035,1052],[1024,1062],
[958,745],[955,755],[965,748],[940,760],[950,765],[735,955],[740,965],[740,975],[728,955],[742,985],[735,990],
[700,1020],[710,1012],[725,1015],[720,1025],[735,1025],[705,1035],[745,1040],[700,1035],[718,1035]
];
// x, y, E in GPa
const measuredPoints = [
[369,248,2],[378,251,1.5],[386,259,.6],[392,265,1],[398,272,2.5],[361,317,.3],[368,320,.3],[369,322,.3],[354,327,.2],[357,376,.3],[368,384,.4],[372,387,.4],[372,387,.4],[383,399,.3],[373,447,1.8],[391,452,.7],[389,460,.3],[404,461,.1],[493,393,.1],[391,537,2.4],[519,527,2.4],[544,531,.2],[555,540,.1],[492,553,5.6],[491,557,1.2],
[122,558,.1],[143,574,5.8],[155,579,1],[215,599,.4],[223,597,.3],[218,618,2],[232,621,1],[243,621,.4],[253,619,2],[262,580,.3],[263,587,3.5],[254,586,1.3],[281,584,.3],[236,534,.7],[323,573,.3],[327,568,.3],[346,561,.7],[304,624,1.3],[315,626,.9],[323,625,.4],[258,669,.3],[307,673,.3],[313,677,.3],[315,680,.3],[331,690,1.5],[339,686,.3],
[403,600,1.5],[415,598,.7],[435,604,1.2],[460,598,2],[468,595,2],[452,607,2.3],[459,633,2],[508,626,.8],[518,603,1.5],[551,603,2.2],[419,642,5.8],[393,643,1.2],[392,649,1],[400,651,.3],[418,654,.3],
[410,763,.4],[412,769,1.5],[464,780,2.3],[675,867,2.8],[681,870,2.5],
[938,116,.2],[942,116,.3],[1008,107,3.5],[1014,112,1.5],[1017,123,2.5],[1027,117,2.2],[998,127,2.2],[1002,124,2],[1013,128,3],[1013,140,1],[1020,139,.8],[1028,143,.6],[1042,127,5.5],[1042,130,3],[1043,143,2.2],[1050,135,1.8],[1055,138,1.5],[1023,150,2],[1034,157,1.6],[1035,147,2],[1015,148,2],[1018,142,2],[1030,150,2],
[988,160,5.7],[991,173,2.5],[976,187,2],[987,188,3],[993,190,1.8],[995,200,2],[1005,197,1.5],[1027,184,1.8],[1034,189,5.7],[1027,197,1.7],[1032,204,.2],[1035,200,3],[1042,203,2.2],[1047,210,2],[1054,213,2],[1038,218,1.2],[1025,218,3],[1018,215,2.5],[1005,217,1.8],[1003,223,2.3],[1010,222,2],[1025,223,2],[1050,212,2],[1036,206,2.2],
[1153,122,1.8],[1150,127,1.8],[1152,130,2.8],[1142,132,2.5],[1133,130,5.6],[1140,142,5.5],[1137,145,1.6],[1153,151,.7],[1145,150,1.5],[1105,146,5.5],[1103,153,2.2],[1098,154,3.5],[1108,156,1.5],[1138,159,5.7],[1127,164,4.3],[1173,163,5],[1167,168,1.6],[1190,169,1.7],[1185,177,2.3],[1175,175,1],[1103,168,2],[1115,170,2.2],[1108,177,2.4],[1102,180,2.2],[1127,173,2.3],[1138,172,2.2],[1138,178,2.3],[1158,180,2.4],[1150,178,1.6],[1142,187,1.9],[1138,193,2.1],[1156,197,2.3],[1094,197,2.1],[1110,203,2.6],[1117,200,2],[1112,198,2.3],[1110,172,2.2],[1106,172,2.3],[1142,178,2.2],[1162,172,2],
[1157,233,5.7],[1158,225,3],[1170,230,2.2],[1153,243,2.5],[1163,240,2.2],[1163,252,2],[1172,259,1],[1181,266,1.5],[1107,240,1.4],[1108,250,2],[1111,254,.3],[1090,250,2],[1087,258,2.2],[1080,265,2],[1083,272,1.3],[1098,270,2],[1107,270,2],[1119,272,1.6],[1133,268,2.3],[1142,263,2.4],[1122,288,2],[1090,270,2],[1127,270,2.2],
[1047,249,2.4],[1060,249,1.5],[1027,259,3.5],[1029,268,3],[1023,278,2],[1028,276,2],[1047,286,2.2],[1053,288,2.2],[1053,298,2.6],[1067,292,1.4],[1070,294,1.4],[1050,305,1.2],[1060,300,1.2],[1078,300,1.5],[1073,303,3.5],[1071,310,.2],[1062,310,5.7],[1068,316,5.5],
[1014,319,1.6],[1006,329,1.8],[989,333,3],[980,334,2.5],[995,333,2.4],[997,376,5.7],[1046,400,2],[1040,407,2.2],[1137,412,.3],[1137,425,.3],
[1077,320,3],[1083,323,2.5],[1092,326,2.4],[1103,307,5.6],[1107,322,5.4],[1120,318,1.4],[1127,310,1.7],[1135,308,2],[1136,322,3],[1118,333,1.4],[1125,317,1.5],[1157,310,2.5],[1162,310,2.5],[1153,313,2.4],[1160,316,2.4],[1148,310,2.2],[1143,307,2.3],[1130,325,2],[1096,356,3.7],[1128,318,1.6],[1132,320,1.7],
[964,481,3],[998,485,1.2],[997,496,5.6],[1007,496,5.5],[1003,502,1.6],[996,506,2],[1017,519,.7],[1052,513,3.3],[1054,502,2.4],[1023,478,2.6],[1030,480,2.8],[1038,496,2],[1056,488,1.7],[1048,500,1],[1073,477,2],[1080,477,2.2],[1077,485,2.1],[1089,470,1.5],[1076,497,1.6],[1093,495,1.5],[1100,506,1.5],[1095,508,1.4],[1099,519,1.3],[1118,463,2],[1102,479,2.9],[1113,475,2.2],[1118,483,1.8],[1113,490,2.2],[1130,482,1.6],[1140,475,1.2],[1142,490,1.1],[1145,500,1.1],[1147,510,1.2],[1148,517,1.2],[1144,523,2.3],[1134,522,1.8],[1154,532,.8],[1162,454,.6],[1183,457,.4],[1220,459,2],[1197,463,1.5],[1201,466,1.6],[1198,473,2.8],[1208,477,1.3],[1210,485,2],[1188,492,1.9],[1214,504,1.2],[1202,507,2.4],[1175,504,1.8],[1171,515,1.7],[1176,519,1.7],[1233,472,1.2],[1241,469,1],[1258,473,1.5],
[1073,536,1.6],[1065,547,1.6],[1060,552,1.5],[1057,554,2],[970,560,2.3],[976,563,1.5],[987,576,2.4],[1014,573,2.3],[1032,576,2.2],[1038,575,1.4],[1062,586,1.3],[1079,582,1.8],[1069,579,2.3],[994,595,1],[974,606,5.7],[974,608,3.5],[973,610,3],[972,616,1.1],[1091,563,.9],[1091,568,.4],[1086,574,1],[1102,570,2.2],[1103,561,.7],[1111,564,.8],[1114,557,3.3],[1119,560,3.5],[1122,567,3],[1123,542,3],[1126,549,2.4],[1131,545,2.4],[1134,562,1.5],[1140,565,1.9],[1145,572,.8],[1123,577,.6],[1132,577,3.5],[1130,575,.6],[1103,586,3],[1108,591,3],[1158,550,1.9],[1173,559,2],[1180,556,1.1],[1180,569,1.2],[1157,573,2],[1160,580,2.1],[1162,582,2],[1166,591,.1],[1193,596,.6],[1188,600,1.6],[1111,620,1.7],[1173,622,2.6],[997,621,2],
[961,657,2],[971,661,1],[895,673,.3],[887,682,.4],[903,716,.5],[888,725,1],[951,719,.2],[970,715,3.6],[997,732,1],[945,761,1.7],[909,778,.5],[912,786,.1],[1009,778,5.6],[1013,785,5.5],
[1069,648,2.6],[1084,657,2.2],[1111,636,1.7],[1109,643,2.5],[1043,684,.1],[1061,674,2.3],[1070,674,1.5],[1057,683,2.6],[1073,694,2],[1088,678,2],[1096,677,2.2],[1105,681,2.2],[1097,687,2],[1098,696,2.1],[1097,702,1.8],[1101,708,1.5],[1114,695,1.8],[1148,673,.8],[1149,669,1],
[1170,707,2.5],[1182,700,1.8],[1184,706,1.5],[1183,714,1.9],[1186,720,1.5],[1197,690,2.3],[1210,714,5.5],[1207,715,.8],[1212,722,1.7],[1204,737,3.2],[1197,745,2.8],[1191,773,5.5],
[1273,455,1.2],[1286,459,5.7],[1315,452,1],[1356,453,.9],[1326,472,.9],[1333,487,2.2],[1262,473,1.2],[1278,488,2.2],[1283,491,2.2],[1313,500,1.4],[1302,505,2],[1292,513,2.2],[1309,510,1],[1286,518,3.7],[1298,515,2],[1313,518,1.4],[1319,527,1.2],[1335,525,1.5],[1339,533,5.4],[1345,533,5],[1341,540,2.4],
[1268,548,1.7],[1279,550,2.2],[1284,549,2.6],[1291,563,2.4],[1308,570,2.5],[1360,548,1.4],[1368,554,1.4],[1367,560,.9],[1330,589,1.2],[1358,591,1.6],[1360,601,5.6],[1269,585,5.8],
[1422,512,5],[1426,513,2.8],[1428,523,1.4],[1420,536,2],[1423,543,5.8],[1412,543,2.7],[1431,547,1.3],
[1354,436,3.3],[1361,430,2],[1372,422,2],[1380,415,1.5],[1389,410,1.5],[1393,395,1.8],[1395,399,5.7],[1404,410,3.7],[1402,402,3],[1411,423,3.3],[1411,430,5.8],[1406,430,1],[1365,424,.1],[1370,430,1.4],[1403,418,2.5],[1385,415,1.6],[1376,420,1.8],
[1009,778,5.6],[962,832,3],[997,733,1.2],[825,777,1.8],[789,758,.5],[766,844,.5],[787,923,1.8],[791,928,.8],[682,1035,5],[682,1035,2.5],[697,1033,2.5],[740,1030,2],[735,1035,.8],[735,1042,.2],[738,1044,3],[678,1079,2.2],[660,1115,2.8],
[842,961,.7],[876,976,.5],[881,991,1.7],[829,989,2.7],[903,1052,3.3],[909,1057,3.3],[904,1069,.4],[913,1083,3.5],
[923,1037,1.2],[942,1043,1.2],[950,1037,.7],[950,1043,2],[978,1041,5.5],[1001,995,5.5],[1010,997,5.5],[1007,995,1.8],[1069,1020,1.2],[1031,1057,2.7],[1041,1053,2.3],[1006,1066,1.5],[1016,1067,5.4],[1020,1072,.8],
[1102,968,.7],[1107,977,.3],[1124,974,5.2],[1104,1001,.8],[1139,847,5.5],[1126,860,2.3],
[1313,227,2],[1320,220,2],[1323,218,2],[1318,225,2.2],[1315,224,2],[1302,238,1.5],[1298,247,.4],[1303,244,.3],[1305,260,2.6],[1308,263,3],[1283,761,2.8],[1280,757,2.5],
[1320,1184,.8],[1329,1209,.1],[1325,1204,.3]
];
const colorbarTicks = [0, 2, 4, 6];
const summerLow = '#008066';
const summerHigh = '#ffff66';

const MyEcharts = echarts.init(document.getElementById('chart'), null, { renderer: 'canvas' });
const grayPoints = [...grayWest, ...grayNorth, ...grayCentral, ...graySouth];

const option = {
    animation: false,
    backgroundColor: '#fff',
    title: {
        text: '(d)',
        left: 121,
        top: 87,
        textStyle: { fontFamily: 'DejaVu Sans', fontSize: 120, fontWeight: 'normal', color: '#000' }
    },
    visualMap: {
        show: false,
        seriesIndex: 1,
        dimension: 2,
        min: colorbarTicks[0],
        max: colorbarTicks[colorbarTicks.length - 1],
        inRange: { color: [summerLow, summerHigh] }
    },
    grid: [
        { left: 0, top: 0, width: 1660, height: 1480, outerBoundsMode: 'none' },
        { left: 47, top: 1514, width: 1565, height: 71, outerBoundsMode: 'none' }
    ],
    xAxis: [
        { gridIndex: 0, type: 'value', min: 0, max: 1660, show: false },
        {
            gridIndex: 1, type: 'value', min: colorbarTicks[0], max: colorbarTicks[3], interval: 2, z: 10,
            splitLine: { show: false },
            axisLine: { show: true, lineStyle: { color: '#000', width: 2 } },
            axisTick: { show: true, length: 11, lineStyle: { color: '#000', width: 1 } },
            axisLabel: { fontFamily: 'DejaVu Sans', fontSize: 87, color: '#000', margin: 9 },
            name: 'E\u2009(GPa)',
            nameLocation: 'middle',
            nameGap: 113,
            nameTextStyle: { fontFamily: 'DejaVu Sans', fontStyle: 'italic', fontSize: 106, color: '#000' }
        },
        {
            gridIndex: 1, type: 'value', min: 0, max: 6, position: 'top', z: 10,
            splitLine: { show: false }, axisTick: { show: false }, axisLabel: { show: false },
            axisLine: { show: true, onZero: false, lineStyle: { color: '#000', width: 2 } }
        }
    ],
    yAxis: [
        { gridIndex: 0, type: 'value', min: 0, max: 1480, inverse: true, show: false },
        {
            gridIndex: 1, type: 'value', min: 0, max: 1, z: 10,
            splitLine: { show: false }, axisTick: { show: false }, axisLabel: { show: false },
            axisLine: { show: true, onZero: false, lineStyle: { color: '#000', width: 2 } }
        },
        {
            gridIndex: 1, type: 'value', min: 0, max: 1, position: 'right', z: 10,
            splitLine: { show: false }, axisTick: { show: false }, axisLabel: { show: false },
            axisLine: { show: true, onZero: false, lineStyle: { color: '#000', width: 2 } }
        }
    ],
    series: [
        {
            type: 'scatter',
            xAxisIndex: 0,
            yAxisIndex: 0,
            data: grayPoints,
            symbolSize: 12,
            silent: true,
            progressive: 0,
            itemStyle: { color: '#808080', opacity: 0.95 }
        },
        {
            type: 'scatter',
            xAxisIndex: 0,
            yAxisIndex: 0,
            data: measuredPoints,
            symbolSize: 13,
            silent: true,
            progressive: 0,
            itemStyle: { opacity: 0.85 }
        },
        {
            type: 'line',
            xAxisIndex: 1,
            yAxisIndex: 1,
            data: [[colorbarTicks[0], 1], [colorbarTicks[3], 1]],
            symbol: 'none',
            silent: true,
            lineStyle: { width: 0 },
            areaStyle: {
                opacity: 1,
                color: new echarts.graphic.LinearGradient(0, 0, 1, 0, [
                    { offset: 0, color: 'rgba(0,128,102,0.8)' },
                    { offset: 1, color: 'rgba(255,255,102,0.8)' }
                ])
            }
        }
    ]
};
MyEcharts.setOption(option);
</script>
</body>
</html>
